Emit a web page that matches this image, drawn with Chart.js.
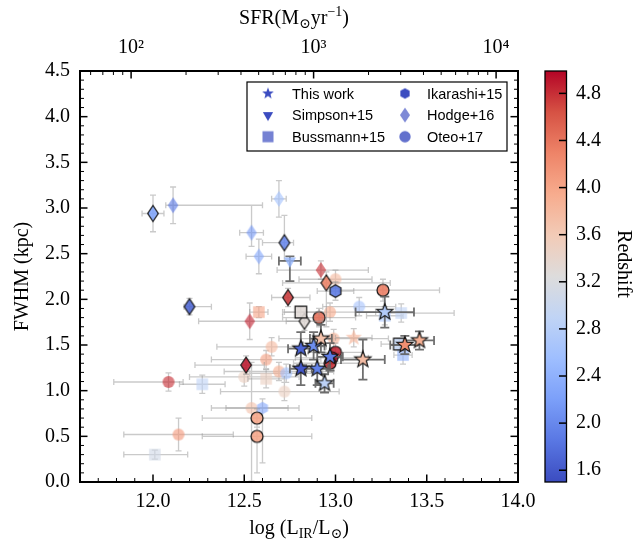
<!DOCTYPE html>
<html>
<head>
<meta charset="utf-8">
<title>FWHM vs infrared luminosity</title>
<script src="https://cdn.jsdelivr.net/npm/chart.js@4.4.1/dist/chart.umd.min.js"></script>
<style>
  html, body { margin: 0; padding: 0; background: #fff; }
  #wrap { width: 644px; height: 541px; }
</style>
</head>
<body>
<div id="wrap"><canvas id="chart"></canvas></div>
<script>
// axis ranges and ticks
const lirRange = [11.6, 14.0];
const fwhmRange = [0, 4.5];
const lirTicks = [12.0, 12.5, 13.0, 13.5, 14.0];
const fwhmTicks = [0, 0.5, 1.0, 1.5, 2.0, 2.5, 3.0, 3.5, 4.0, 4.5];
const sfrPowers = [2, 3, 4];
const sfrOffset = 9.88; // log SFR = log L_IR - sfrOffset
const zRange = [1.5, 4.99];
const zTicks = [1.6, 2.0, 2.4, 2.8, 3.2, 3.6, 4.0, 4.4, 4.8];

// each survey: log L_IR, FWHM (kpc), redshift, x error [lo, hi], y error [lo, hi], kind (0 faint, 1 outlined, 2 plain)
const twL    = [12.81, 12.88, 12.92, 12.97, 12.81, 12.90, 12.94, 13.15, 13.27, 13.38, 13.46, 13.10];
const twFwhm = [1.46, 1.49, 1.57, 1.37, 1.24, 1.24, 1.08, 1.34, 1.86, 1.50, 1.55, 1.58];
const twZ    = [1.7, 2.05, 3.7, 1.9, 1.6, 1.95, 2.85, 3.75, 2.75, 4.2, 3.9, 3.9];
const twXerr = [[0.07, 0.07], [0.06, 0.06], [0.06, 0.06], [0.07, 0.07], [0.06, 0.06], [0.06, 0.06], [0.05, 0.05], [0.12, 0.12], [0.16, 0.16], [0.08, 0.08], [0.08, 0.08], [0.1, 0.1]];
const twYerr = [[0.18, 0.18], [0.15, 0.15], [0.15, 0.15], [0.15, 0.15], [0.18, 0.18], [0.18, 0.18], [0.1, 0.1], [0.22, 0.22], [0.17, 0.17], [0.1, 0.1], [0.1, 0.1], [0.1, 0.1]];
const twKind = [1, 1, 1, 1, 1, 1, 1, 1, 1, 1, 1, 0];

const simL    = [12.75];
const simFwhm = [2.42];
const simZ    = [2.45];
const simXerr = [[0.06, 0.06]];
const simYerr = [[0.22, 0.05]];
const simKind = [2];

const busL    = [12.58, 12.81, 13.36, 13.27, 13.35, 13.37, 12.62, 12.27, 12.01];
const busFwhm = [1.86, 1.86, 1.85, 1.82, 1.51, 1.39, 1.13, 1.07, 0.30];
const busZ    = [4.0, 3.3, 2.9, 2.7, 2.95, 2.4, 3.5, 2.9, 3.1];
const busXerr = [[0.05, 0.05], [0.1, 0.1], [0.1, 0.29], [0.1, 0.1], [0.1, 0.1], [0.05, 0.05], [0.1, 0.1], [0.125, 0.125], [0.17, 0.18]];
const busYerr = [[0.06, 0.06], [0.06, 0.06], [0.1, 0.1], [0.1, 0.1], [0.06, 0.06], [0.1, 0.1], [0.1, 0.1], [0.1, 0.1], [0.05, 0.05]];
const busKind = [0, 1, 0, 0, 1, 0, 0, 0, 0];

const ikaL    = [13.00, 12.60];
const ikaFwhm = [2.09, 0.81];
const ikaZ    = [1.85, 2.3];
const ikaXerr = [[0.1, 0.1], [0.2, 0.2]];
const ikaYerr = [[0.1, 0.1], [0.6, 0.1]];
const ikaKind = [1, 0];

const hodL    = [12.00, 12.11, 12.54, 12.58, 12.69, 12.20, 12.53, 12.72, 12.92, 12.95, 12.74, 12.83, 12.51];
const hodFwhm = [2.94, 3.03, 2.73, 2.47, 3.10, 1.92, 1.76, 2.62, 2.32, 2.18, 2.02, 1.76, 1.28];
const hodZ    = [2.25, 1.85, 2.15, 2.3, 2.6, 1.7, 4.85, 2.0, 4.8, 4.3, 4.75, 3.3, 4.9];
const hodXerr = [[0.06, 0.06], [0.04, 0.49], [0.065, 0.065], [0.07, 0.07], [0.04, 0.04], [0.03, 0.12], [0.28, 0.3], [0.12, 0.05], [0.24, 0.26], [0.24, 0.35], [0.09, 0.12], [0.1, 0.1], [0.28, 0.1]];
const hodYerr = [[0.2, 0.2], [0.2, 0.2], [0.15, 0.3], [0.19, 0.19], [0.2, 0.2], [0.09, 0.09], [0.2, 0.2], [0.2, 0.3], [0.1, 0.1], [0.48, 0.12], [0.1, 0.1], [0.1, 0.1], [0.1, 0.1]];
const hodKind = [1, 0, 0, 0, 0, 1, 0, 1, 0, 1, 1, 1, 1];

const oteL    = [13.00, 13.26, 12.91, 12.97, 13.13, 12.99, 12.65, 12.62, 12.69, 12.73, 12.72, 12.50, 12.54, 12.57, 12.57, 12.085, 12.14, 13.00, 12.98, 12.97];
const oteFwhm = [2.22, 2.10, 1.80, 1.86, 1.92, 1.57, 1.48, 1.34, 1.21, 1.19, 0.99, 1.15, 0.81, 0.70, 0.50, 1.095, 0.52, 1.42, 1.36, 1.30];
const oteZ    = [3.8, 4.35, 4.45, 3.95, 2.65, 3.9, 3.8, 4.05, 3.9, 2.6, 3.5, 3.5, 3.7, 4.0, 4.0, 4.8, 4.1, 4.85, 4.95, 4.8];
const oteXerr = [[0.2, 0.2], [0.24, 0.31], [0.2, 0.2], [0.25, 0.25], [0.2, 0.2], [0.3, 0.3], [0.3, 0.3], [0.3, 0.3], [0.3, 0.3], [0.2, 0.2], [0.35, 0.3], [0.3, 0.3], [0.22, 0.2], [0.3, 0.3], [0.3, 0.3], [0.3, 0.08], [0.3, 0.3], [0.15, 0.15], [0.2, 0.2], [0.2, 0.2]];
const oteYerr = [[0.1, 0.1], [0.12, 0.12], [0.1, 0.1], [0.1, 0.1], [0.1, 0.1], [0.1, 0.1], [0.1, 0.1], [0.1, 0.1], [0.1, 0.1], [0.1, 0.1], [0.1, 0.1], [0.1, 0.1], [0.8, 0.5], [0.1, 0.1], [0.4, 0.2], [0.1, 0.1], [0.18, 0.18], [0.1, 0.1], [0.1, 0.1], [0.1, 0.1]];
const oteKind = [0, 1, 1, 0, 0, 0, 0, 0, 0, 0, 0, 0, 0, 1, 1, 0, 0, 1, 1, 1];

const serif = "'Liberation Serif', 'DejaVu Serif', serif";
const sans = "'Liberation Sans', 'DejaVu Sans', sans-serif";

// coolwarm colormap
const coolwarm = ['#3b4cc0', '#5977e3', '#7b9ff9', '#9ebeff', '#c0d4f5', '#dddcdc', '#f2cbb7', '#f7ac8e', '#ee8468', '#d65244', '#b40426'];
const cwRgb = coolwarm.map(h => [1, 3, 5].map(i => parseInt(h.slice(i, i + 2), 16)));
function zColor(z) {
  let t = (z - zRange[0]) / (zRange[1] - zRange[0]);
  t = Math.max(0, Math.min(1, t)) * (cwRgb.length - 1);
  const i = Math.min(Math.floor(t), cwRgb.length - 2), f = t - i;
  const c = cwRgb[i].map((v, k) => Math.round(v + (cwRgb[i + 1][k] - v) * f));
  return `rgb(${c.join(',')})`;
}

function markerPath(g, shape, s) {
  g.beginPath();
  if (shape === 'circle') {
    g.arc(0, 0, 6 * s, 0, Math.PI * 2);
  } else if (shape === 'square') {
    g.rect(-5.8 * s, -5.8 * s, 11.6 * s, 11.6 * s);
  } else if (shape === 'diamond') {
    g.moveTo(0, -8 * s); g.lineTo(5.3 * s, 0); g.lineTo(0, 8 * s); g.lineTo(-5.3 * s, 0); g.closePath();
  } else {
    let n, r0, r1, a0;
    if (shape === 'star') { n = 10; r0 = 8.5 * s; r1 = r0 * 0.42; a0 = -Math.PI / 2; }
    else if (shape === 'hexagon') { n = 6; r0 = r1 = 6.3 * s; a0 = -Math.PI / 2; }
    else { n = 3; r0 = r1 = 7 * s; a0 = Math.PI / 2; }
    for (let k = 0; k < n; k++) {
      const a = a0 + k * 2 * Math.PI / n, r = k % 2 ? r1 : r0;
      k ? g.lineTo(r * Math.cos(a), r * Math.sin(a)) : g.moveTo(r * Math.cos(a), r * Math.sin(a));
    }
    g.closePath();
  }
}

const imgCache = {};
function markerImage(shape, color, alpha, edge, s = 1) {
  const key = [shape, color, alpha, edge, s].join('|');
  if (imgCache[key]) return imgCache[key];
  const c = document.createElement('canvas');
  c.width = c.height = 26;
  const g = c.getContext('2d');
  g.translate(13, 13);
  markerPath(g, shape, s);
  g.globalAlpha = alpha;
  g.fillStyle = color;
  g.fill();
  if (edge) {
    g.globalAlpha = 1;
    g.lineWidth = 1.2;
    g.lineJoin = 'miter';
    g.strokeStyle = '#151515';
    g.stroke();
  }
  imgCache[key] = c;
  return c;
}

function buildRows(L, F, Z, XE, YE, K) {
  return L.map((x, i) => ({ x, y: F[i], z: Z[i], xe: XE[i], ye: YE[i], k: K[i] }));
}

const surveys = [
  { label: 'This work', shape: 'star', darkBars: true, rows: buildRows(twL, twFwhm, twZ, twXerr, twYerr, twKind) },
  { label: 'Simpson+15', shape: 'triangle', darkBars: true, rows: buildRows(simL, simFwhm, simZ, simXerr, simYerr, simKind) },
  { label: 'Bussmann+15', shape: 'square', darkBars: false, rows: buildRows(busL, busFwhm, busZ, busXerr, busYerr, busKind) },
  { label: 'Ikarashi+15', shape: 'hexagon', darkBars: false, rows: buildRows(ikaL, ikaFwhm, ikaZ, ikaXerr, ikaYerr, ikaKind) },
  { label: 'Hodge+16', shape: 'diamond', darkBars: false, rows: buildRows(hodL, hodFwhm, hodZ, hodXerr, hodYerr, hodKind) },
  { label: 'Oteo+17', shape: 'circle', darkBars: false, rows: buildRows(oteL, oteFwhm, oteZ, oteXerr, oteYerr, oteKind) }
];

const kindAlpha = [0.62, 0.88, 0.8];

const datasets = [];
surveys.forEach(s => {
  [0, 2, 1].forEach(kind => {
    const data = s.rows.filter(r => r.k === kind);
    if (!data.length) return;
    datasets.push({
      label: s.label,
      data,
      shape: s.shape,
      darkBars: kind === 2 || (kind === 1 && s.darkBars),
      order: kind === 0 ? 20 : (s.shape === 'star' ? 0 : 10),
      pointRadius: 6,
      pointStyle: ctx => {
        const r = ctx.raw;
        if (!r) return 'circle';
        return markerImage(s.shape, zColor(r.z), s.shape === 'star' && r.k === 1 ? 1 : kindAlpha[r.k], r.k === 1);
      }
    });
  });
});

// error bars drawn just before each dataset's markers
const errorBars = {
  id: 'errorBars',
  beforeDatasetDraw(chart, args) {
    const ds = chart.data.datasets[args.index];
    const { ctx, chartArea: a, scales: { x, y } } = chart;
    const cap = ds.darkBars ? 4.5 : 3;
    ctx.save();
    ctx.beginPath();
    ctx.rect(a.left, a.top, a.width, a.height);
    ctx.clip();
    ctx.strokeStyle = ds.darkBars ? 'rgba(95,95,95,0.9)' : 'rgba(150,150,150,0.5)';
    ctx.lineWidth = ds.darkBars ? 1.8 : 1.3;
    ctx.beginPath();
    ds.data.forEach(p => {
      const px = x.getPixelForValue(p.x), py = y.getPixelForValue(p.y);
      const x0 = x.getPixelForValue(p.x - p.xe[0]), x1 = x.getPixelForValue(p.x + p.xe[1]);
      const y0 = y.getPixelForValue(p.y - p.ye[0]), y1 = y.getPixelForValue(p.y + p.ye[1]);
      ctx.moveTo(x0, py); ctx.lineTo(x1, py);
      ctx.moveTo(px, y0); ctx.lineTo(px, y1);
      ctx.moveTo(x0, py - cap); ctx.lineTo(x0, py + cap);
      ctx.moveTo(x1, py - cap); ctx.lineTo(x1, py + cap);
      ctx.moveTo(px - cap, y0); ctx.lineTo(px + cap, y0);
      ctx.moveTo(px - cap, y1); ctx.lineTo(px + cap, y1);
    });
    ctx.stroke();
    ctx.restore();
  }
};

function richText(ctx, parts, cx, cy, size, angle) {
  ctx.save();
  ctx.translate(cx, cy);
  ctx.rotate(angle || 0);
  ctx.fillStyle = '#000';
  ctx.textBaseline = 'alphabetic';
  ctx.textAlign = 'left';
  const fontOf = k => `${k ? Math.round(size * 0.7) : size}px ${serif}`;
  const widths = parts.map(([t, k]) => { ctx.font = fontOf(k); return ctx.measureText(t).width; });
  let xx = -widths.reduce((u, v) => u + v, 0) / 2;
  parts.forEach(([t, k], i) => {
    ctx.font = fontOf(k);
    const dy = k === 'sub' ? size * 0.22 : k === 'sup' ? -size * 0.38 : 0;
    ctx.fillText(t, xx, size * 0.33 + dy);
    xx += widths[i];
  });
  ctx.restore();
}

// frame, inward ticks, colorbar, legend and axis titles
const decorations = {
  id: 'decorations',
  afterDraw(chart) {
    const { ctx, chartArea: a, scales: { x, y } } = chart;
    ctx.save();
    ctx.strokeStyle = '#000';

    const tick = (pos, side, len, w) => {
      ctx.lineWidth = w;
      ctx.beginPath();
      if (side === 'b') { ctx.moveTo(pos, a.bottom); ctx.lineTo(pos, a.bottom - len); }
      if (side === 't') { ctx.moveTo(pos, a.top); ctx.lineTo(pos, a.top + len); }
      if (side === 'l') { ctx.moveTo(a.left, pos); ctx.lineTo(a.left + len, pos); }
      if (side === 'r') { ctx.moveTo(a.right, pos); ctx.lineTo(a.right - len, pos); }
      ctx.stroke();
    };
    for (let i = Math.round(lirRange[0] * 10) + 1; i < lirRange[1] * 10; i++) {
      const v = i / 10;
      const major = lirTicks.some(t => Math.abs(t - v) < 1e-6);
      tick(x.getPixelForValue(v), 'b', major ? 7.5 : 4, major ? 1.5 : 1);
    }
    for (let i = 1; i < fwhmRange[1] * 10; i++) {
      const v = i / 10;
      const major = fwhmTicks.some(t => Math.abs(t - v) < 1e-6);
      tick(y.getPixelForValue(v), 'l', major ? 7.5 : 4, major ? 1.5 : 1);
      tick(y.getPixelForValue(v), 'r', major ? 7.5 : 4, major ? 1.5 : 1);
    }
    for (let p = 1; p <= 4; p++) {
      for (let m = 1; m <= 9; m++) {
        const v = p + Math.log10(m) + sfrOffset;
        if (v <= lirRange[0] || v >= lirRange[1]) continue;
        tick(x.getPixelForValue(v), 't', m === 1 ? 7.5 : 4, m === 1 ? 1.5 : 1);
      }
    }
    ctx.lineWidth = 2;
    ctx.strokeRect(a.left, a.top, a.width, a.height);

    // colorbar
    const cb = { left: 545, right: 566.5, top: a.top, bottom: a.bottom };
    const grad = ctx.createLinearGradient(0, cb.bottom, 0, cb.top);
    coolwarm.forEach((c, i) => grad.addColorStop(i / (coolwarm.length - 1), c));
    ctx.fillStyle = grad;
    ctx.fillRect(cb.left, cb.top, cb.right - cb.left, cb.bottom - cb.top);
    ctx.lineWidth = 1.3;
    ctx.strokeRect(cb.left, cb.top, cb.right - cb.left, cb.bottom - cb.top);
    ctx.fillStyle = '#000';
    ctx.font = `20px ${serif}`;
    ctx.textAlign = 'left';
    ctx.textBaseline = 'middle';
    zTicks.forEach(z => {
      const py = cb.bottom - (z - zRange[0]) / (zRange[1] - zRange[0]) * (cb.bottom - cb.top);
      ctx.lineWidth = 1.5;
      ctx.beginPath(); ctx.moveTo(cb.right, py); ctx.lineTo(cb.right - 7.5, py); ctx.stroke();
      ctx.fillText(z.toFixed(1), 576, py);
    });
    richText(ctx, [['Redshift', '']], 625, 264, 20, Math.PI / 2);

    // legend
    const lg = { left: 247, top: 82, right: 507, bottom: 151 };
    ctx.fillStyle = '#fff';
    ctx.fillRect(lg.left, lg.top, lg.right - lg.left, lg.bottom - lg.top);
    ctx.lineWidth = 1.2;
    ctx.strokeStyle = '#000';
    ctx.strokeRect(lg.left, lg.top, lg.right - lg.left, lg.bottom - lg.top);
    const legendAlpha = [1, 1, 0.7, 1, 0.65, 0.8];
    const legendScale = [0.72, 0.85, 0.95, 0.85, 0.95, 0.95];
    ctx.font = `14.5px ${sans}`;
    ctx.textBaseline = 'middle';
    surveys.forEach((s, i) => {
      const col = i < 3 ? 0 : 1, row = i % 3;
      const mx = col ? 405 : 268, tx = col ? 427 : 292, my = 93.5 + row * 21.6;
      const img = markerImage(s.shape, coolwarm[0], legendAlpha[i], false, legendScale[i]);
      ctx.drawImage(img, mx - img.width / 2, my - img.height / 2);
      ctx.fillStyle = '#000';
      ctx.fillText(s.label, tx, my + 1);
    });

    // axis titles
    richText(ctx, [['log (L', ''], ['IR', 'sub'], ['/L', ''], ['\u2299', 'sub'], [')', '']], (a.left + a.right) / 2, 527, 20, 0);
    richText(ctx, [['SFR(M', ''], ['\u2299', 'sub'], ['yr', ''], ['\u22121', 'sup'], [')', '']], (a.left + a.right) / 2 - 5, 17, 20, 0);
    richText(ctx, [['FWHM (kpc)', '']], 21, (a.top + a.bottom) / 2, 20, -Math.PI / 2);
    ctx.restore();
  }
};

const supDigits = { 2: '\u00b2', 3: '\u00b3', 4: '\u2074' };
const tickFont = { family: serif, size: 20 };

new Chart(document.getElementById('chart'), {
  type: 'scatter',
  data: { datasets },
  options: {
    responsive: true,
    maintainAspectRatio: false,
    animation: false,
    devicePixelRatio: 1,
    events: [],
    layout: { padding: { left: 0, right: 126, top: 0, bottom: 0 } },
    plugins: { legend: { display: false }, tooltip: { enabled: false } },
    scales: {
      x: {
        type: 'linear', position: 'bottom', min: lirRange[0], max: lirRange[1],
        afterBuildTicks: s => { s.ticks = lirTicks.map(v => ({ value: v })); },
        afterFit: s => { s.height = 59; },
        grid: { display: false, drawTicks: false },
        border: { display: false },
        ticks: { color: '#000', font: tickFont, padding: 8, maxRotation: 0, autoSkip: false, callback: v => v.toFixed(1) }
      },
      xTop: {
        type: 'linear', axis: 'x', position: 'top', min: lirRange[0], max: lirRange[1],
        afterBuildTicks: s => { s.ticks = sfrPowers.map(p => ({ value: p + sfrOffset })); },
        afterFit: s => { s.height = 71; },
        grid: { display: false, drawTicks: false },
        border: { display: false },
        ticks: { color: '#000', font: tickFont, padding: 11, maxRotation: 0, autoSkip: false, callback: v => '10' + supDigits[Math.round(v - sfrOffset)] }
      },
      y: {
        type: 'linear', position: 'left', min: fwhmRange[0], max: fwhmRange[1],
        afterBuildTicks: s => { s.ticks = fwhmTicks.map(v => ({ value: v })); },
        afterFit: s => { s.width = 80; },
        grid: { display: false, drawTicks: false },
        border: { display: false },
        ticks: { color: '#000', font: tickFont, padding: 10, autoSkip: false, callback: v => v.toFixed(1) }
      }
    }
  },
  plugins: [errorBars, decorations]
});
</script>
</body>
</html>
